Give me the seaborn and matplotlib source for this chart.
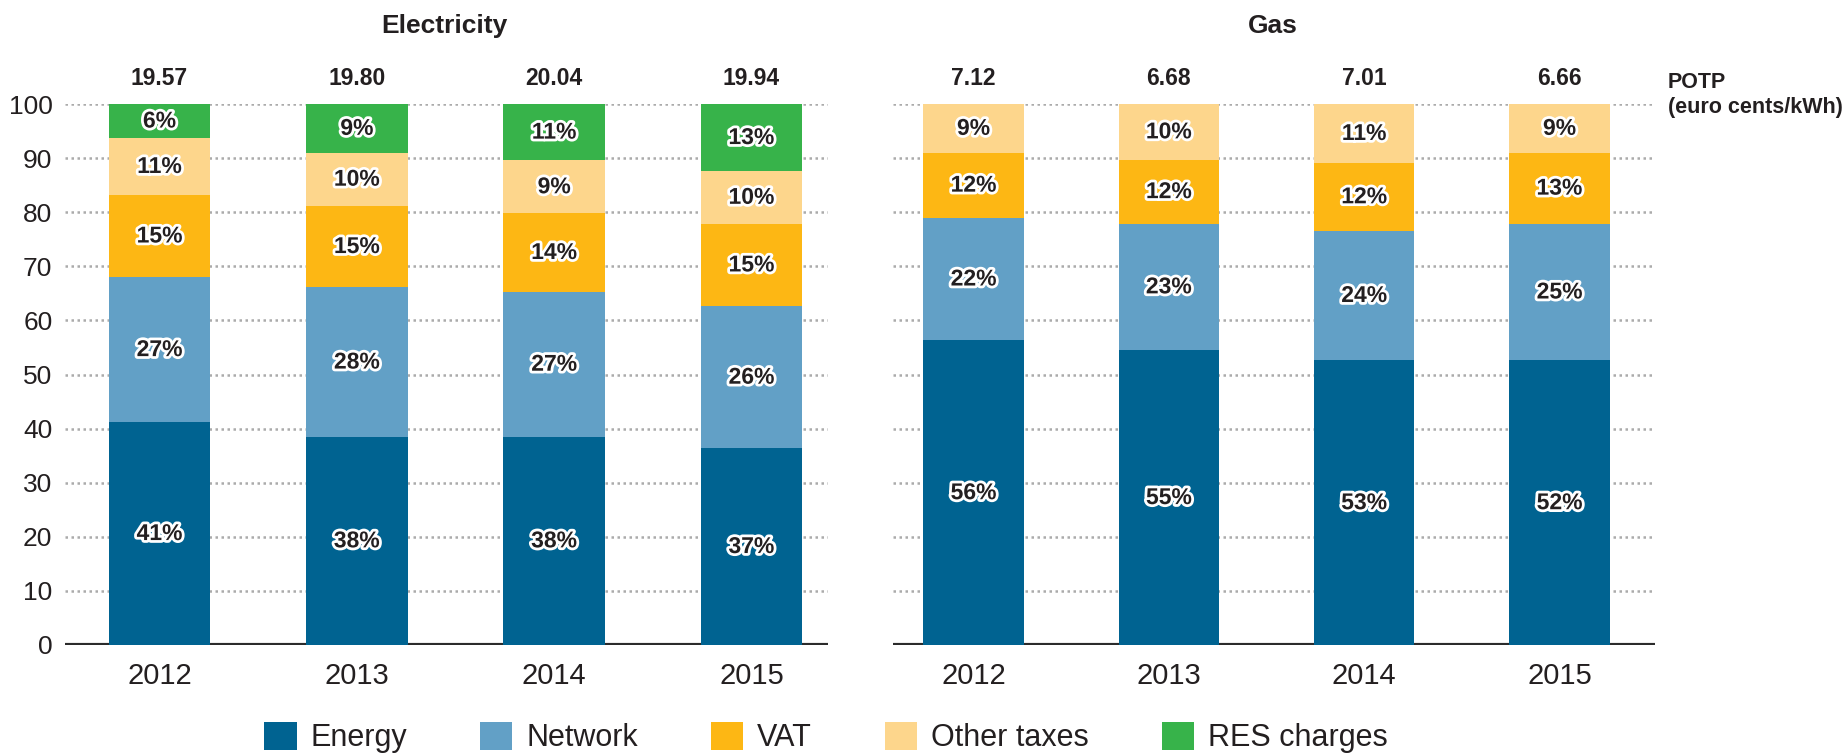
import matplotlib

matplotlib.use("Agg")
import matplotlib.patheffects as pe
import matplotlib.pyplot as plt
import numpy as np
import seaborn as sns
from matplotlib.patches import Patch

years = ["2012", "2013", "2014", "2015"]
components = ["Energy", "Network", "VAT", "Other taxes", "RES charges"]
colors = ["#006391", "#62A0C6", "#FDB714", "#FDD68C", "#37B34A"]

# electricity: share of price (%) per component, bottom to top
elec_energy = [41.2, 38.5, 38.5, 36.4]
elec_network = [26.8, 27.6, 26.8, 26.2]
elec_vat = [15.2, 15.1, 14.5, 15.3]
elec_other = [10.5, 9.8, 9.8, 9.7]
elec_res = [6.3, 9.0, 10.4, 12.4]
elec_labels = [
    [41, 38, 38, 37],
    [27, 28, 27, 26],
    [15, 15, 14, 15],
    [11, 10, 9, 10],
    [6, 9, 11, 13],
]
elec_totals = ["19.57", "19.80", "20.04", "19.94"]

# gas: no RES charges
gas_energy = [56.3, 54.5, 52.6, 52.6]
gas_network = [22.7, 23.4, 24.0, 25.3]
gas_vat = [12.0, 11.8, 12.5, 13.1]
gas_other = [9.0, 10.3, 10.9, 9.0]
gas_labels = [
    [56, 55, 53, 52],
    [22, 23, 24, 25],
    [12, 12, 12, 13],
    [9, 10, 11, 9],
]
gas_totals = ["7.12", "6.68", "7.01", "6.66"]

TEXT = "#231F20"

sns.set_theme(style="white")
plt.rcParams["font.family"] = ["Liberation Sans Narrow", "Liberation Sans", "DejaVu Sans"]


def draw_panel(ax, layers, labels, totals, xlim, show_yticks):
    values = np.array(layers)
    tops = values.cumsum(axis=0)
    # draw from top layer down so lower segments sit over the taller bars
    for i in range(len(layers) - 1, -1, -1):
        sns.barplot(
            x=years,
            y=tops[i],
            color=colors[i],
            saturation=1,
            width=0.515,
            linewidth=0,
            errorbar=None,
            ax=ax,
            zorder=2,
        )
    for i in range(len(layers)):
        mids = tops[i] - values[i] / 2
        for j, year in enumerate(years):
            ax.text(
                j, mids[j], f"{labels[i][j]}%",
                ha="center", va="center", fontsize=16.5, fontweight="bold", color=TEXT,
                path_effects=[pe.withStroke(linewidth=4, foreground="white")], zorder=5,
            )
    for j, total in enumerate(totals):
        ax.annotate(
            total, (j, 100), xytext=(0, 10), textcoords="offset points",
            ha="center", va="bottom", fontsize=16.5, fontweight="bold", color=TEXT,
            annotation_clip=False,
        )

    ax.set_xlim(*xlim)
    ax.set_ylim(0, 100)
    ax.set_yticks(range(0, 101, 10))
    ax.yaxis.grid(True, linestyle=(0, (1, 1.4)), color="#ABABAB", linewidth=1.8, zorder=0)
    ax.xaxis.grid(False)
    ax.set_axisbelow(True)
    ax.axhline(0, color="#2B2B2B", linewidth=3, zorder=1)
    for spine in ax.spines.values():
        spine.set_visible(False)
    ax.set_xlabel("")
    ax.set_ylabel("")
    ax.tick_params(axis="x", length=0, pad=12, labelsize=21, labelcolor=TEXT)
    ax.tick_params(axis="y", length=0, pad=9, labelsize=19, labelcolor=TEXT)
    if not show_yticks:
        ax.set_yticklabels([])


fig = plt.figure(figsize=(18.48, 7.54), dpi=100)
W, H = 1848, 754
ax_elec = fig.add_axes([65 / W, 1 - 645 / H, 763 / W, 541 / H])
ax_gas = fig.add_axes([893 / W, 1 - 645 / H, 762 / W, 541 / H])

draw_panel(
    ax_elec,
    [elec_energy, elec_network, elec_vat, elec_other, elec_res],
    elec_labels, elec_totals, (-0.479, 3.388), True,
)
draw_panel(
    ax_gas,
    [gas_energy, gas_network, gas_vat, gas_other],
    gas_labels, gas_totals, (-0.412, 3.489), False,
)

fig.text(444 / W, 1 - 26 / H, "Electricity", ha="center", va="center",
         fontsize=19, fontweight="bold", color=TEXT)
fig.text(1273 / W, 1 - 26 / H, "Gas", ha="center", va="center",
         fontsize=19, fontweight="bold", color=TEXT)
fig.text(1668 / W, 1 - 72 / H, "POTP\n(euro cents/kWh)", ha="left", va="top",
         fontsize=15.5, fontweight="bold", color=TEXT, linespacing=1.25)

handles = [Patch(facecolor=c, edgecolor="none") for c in colors]
fig.legend(
    handles, components, loc="center", bbox_to_anchor=(0.447, 0.022), ncol=5,
    frameon=False, fontsize=22, handlelength=1.05, handleheight=1.05,
    handletextpad=0.45, columnspacing=2.4, labelcolor=TEXT,
)

fig.savefig("out.png", dpi=100)
